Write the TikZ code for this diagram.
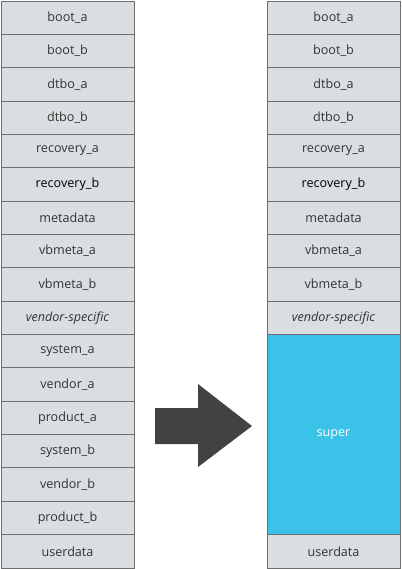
\documentclass[tikz,border=0pt]{standalone}
\usepackage{fontspec}
\setmainfont{Open Sans}
\definecolor{cellfill}{HTML}{D9DEE1}
\definecolor{cellline}{HTML}{6E6E6E}
\definecolor{celltext}{HTML}{333333}
\definecolor{superblue}{HTML}{3BC2E9}
\definecolor{arrowgrey}{HTML}{424242}
\begin{document}
\begin{tikzpicture}[x=1pt,y=-1pt,
  cell/.style={draw=cellline, line width=0.9pt, fill=cellfill, minimum width=133pt, minimum height=33.35pt, inner sep=0pt, text=celltext, font=\fontsize{12.6}{14}\selectfont},
  ]
\useasboundingbox (0,0) rectangle (401,569);
\def\rowh{33.35}
% left column
\foreach \t/\n [count=\i from 0] in {boot\_a/La,boot\_b/Lb,dtbo\_a/Lc,dtbo\_b/Ld,recovery\_a/Le,{\color{black}recovery\_b}/Lf,metadata/Lg,vbmeta\_a/Lh,vbmeta\_b/Li,\textit{vendor-specific}/Lj,system\_a/Lk,vendor\_a/Ll,product\_a/Lm,system\_b/Ln,vendor\_b/Lo,product\_b/Lp,userdata/Lq}{
  \node[cell] (\n) at (67.5, 1+\rowh*\i+\rowh/2) {\t};
}
% right column
\foreach \t/\n [count=\i from 0] in {boot\_a/Ra,boot\_b/Rb,dtbo\_a/Rc,dtbo\_b/Rd,recovery\_a/Re,{\color{black}recovery\_b}/Rf,metadata/Rg,vbmeta\_a/Rh,vbmeta\_b/Ri,\textit{vendor-specific}/Rj}{
  \node[cell] (\n) at (333.5, 1+\rowh*\i+\rowh/2) {\t};
}
\node[cell, fill=superblue, text=white, minimum height=6*\rowh] (super) at (333.5, 1+\rowh*13) {super};
\node[cell] (Ruser) at (333.5, 1+\rowh*16.5) {userdata};
% big arrow
\fill[arrowgrey] (155,408) -- (198,408) -- (198,384) -- (252,426) -- (198,467) -- (198,444) -- (155,444) -- cycle;
\end{tikzpicture}
\end{document}
